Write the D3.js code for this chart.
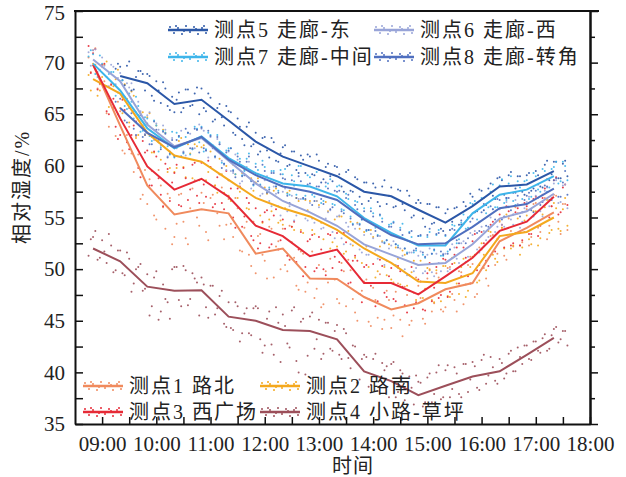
<!DOCTYPE html>
<html>
<head>
<meta charset="utf-8">
<script src="https://cdn.jsdelivr.net/npm/d3@7"></script>
<style>
body { margin: 0; background: #fff; }
svg { display: block; }
</style>
</head>
<body>
<div id="chart"></div>
<script>
const parseTime = d3.timeParse("%H:%M:%S");
const FONT = "'Liberation Serif', 'Noto Sans CJK SC', serif";

// half-hour averaged line values (08:50 ... 17:20)
const lineTimes = ["08:50:00","09:20:00","09:50:00","10:20:00","10:50:00","11:20:00","11:50:00","12:20:00","12:50:00",
  "13:20:00","13:50:00","14:20:00","14:50:00","15:20:00","15:50:00","16:20:00","16:50:00","17:20:00"];

const line1 = [69.8, 63.9, 58.1, 55.3, 55.8, 55.4, 51.5, 52.0, 49.1, 49.05, 47.3, 46.1, 46.7, 48.05, 48.65, 52.7, 54.0, 55.5];
const line2 = [68.4, 67.0, 63.2, 61.0, 60.4, 58.65, 56.9, 55.9, 55.1, 53.8, 52.0, 50.6, 48.8, 48.65, 49.6, 53.2, 53.6, 55.0];
const line3 = [69.8, 64.6, 59.95, 57.7, 58.75, 57.0, 54.2, 53.2, 51.25, 51.9, 48.65, 48.65, 47.55, 49.3, 51.1, 53.7, 54.6, 57.0];
const line4 = [52.0, 50.75, 48.3, 47.9, 47.95, 45.4, 45.0, 44.1, 44.0, 43.2, 40.1, 39.15, 37.8, 38.7, 39.6, 40.1, 41.7, 43.35];
const line5 = [null, 68.7, 68.0, 66.0, 66.4, 64.4, 62.35, 60.9, 59.95, 59.0, 57.5, 57.05, 55.75, 54.5, 56.1, 58.0, 58.2, 59.5];
const line6 = [70.3, 68.2, 64.0, 61.9, 62.7, 60.5, 58.3, 56.6, 55.5, 54.2, 52.4, 51.4, 50.4, 50.6, 52.4, 54.9, 55.6, 57.3];
const line7 = [69.9, 67.3, 63.65, 61.7, 62.85, 60.75, 59.3, 58.3, 58.0, 57.05, 54.95, 53.5, 52.3, 52.3, 55.4, 57.2, 57.7, 59.0];
const line8 = [null, 65.6, 63.2, 61.8, 62.8, 60.6, 59.1, 58.0, 57.5, 56.7, 54.8, 53.3, 52.4, 52.5, 54.1, 55.9, 56.3, 57.8];

// raw readings, one every 5 minutes from the given start (two interleaved sets)
const startA = ["08:45:00","08:45:00","08:45:00","08:45:00","09:15:00","08:45:00","08:45:00","09:15:00"];
const startB = ["08:47:30","08:47:30","08:47:30","08:47:30","09:17:30","08:47:30","08:47:30","09:17:30"];

const dots1 = [70.5,
 71.2,67.5,69.6,65.1,67.8,62.9, 65.3,61.2,63.8,59.4,61.1,57.2, 56.3,59.5,54.8,58.1,53.9,56.9,
 53.1,57.2,54.6,52.4,57.8,55.0, 57.4,53.6,56.9,58.1,54.2,52.9, 56.8,53.1,55.9,51.7,54.6,50.3,
 49.6,53.4,50.8,54.1,49.2,52.7, 53.9,49.8,52.6,48.4,51.7,47.8, 51.3,47.2,50.4,46.6,48.7,51.8,
 47.1,50.6,46.4,49.9,45.8,49.2, 48.8,44.9,48.2,45.3,44.2,47.9, 44.3,47.8,45.1,48.3,44.6,47.7,
 48.4,45.2,49.1,45.9,49.6,46.1, 46.3,50.2,47.0,49.8,46.6,50.4, 50.5,47.6,51.9,49.1,53.2,50.4,
 54.6,51.3,54.9,52.2,55.4,52.6, 55.8,53.1,56.4,53.6,56.9,54.2, 57.2,54.6,56.3,53.8];
const dots1b = [69.1,
 71.4,67.9,68.2,63.8,65.6,66.2, 61.5,63.0,61.2,62.9,56.8,59.6, 58.7,55.2,59.6,56.0,57.3,52.4,
 54.4,57.3,53.0,55.9,58.6,54.2, 56.4,52.8,57.2,55.4,57.9,54.3, 54.4,56.9,51.8,54.0,51.4,54.6,
 53.2,51.4,49.1,53.9,52.2,50.0, 50.4,54.2,51.1,48.0,51.5,48.7, 51.7,48.1,46.3,49.8,51.0,49.0,
 46.7,49.8,50.9,47.1,45.0,47.9, 49.0,44.5,47.0,49.5,45.1,47.0, 45.5,48.6,43.5,47.5,45.0,49.2,
 47.2,44.7,50.0,46.7,49.2,45.9, 50.1,47.6,45.9,49.7,48.5,51.2, 47.3,52.1,50.1,48.4,53.3,51.5,
 54.0,50.9,53.7,56.0,52.3,53.6, 52.3,56.3,54.0,57.2,52.9,56.1, 57.1,53.4,56.3];

const dots2 = [68.8,
 69.9,66.8,68.6,70.1,66.3,68.4, 65.6,67.9,64.2,66.8,63.0,65.2, 64.7,61.3,63.9,60.6,63.2,59.8,
 59.4,62.4,59.9,62.1,58.8,61.9, 61.8,58.6,61.4,58.1,60.7,57.4, 57.1,60.1,56.9,59.3,55.9,58.8,
 58.4,55.2,57.9,54.8,57.6,54.5, 54.3,57.4,54.1,56.9,53.8,56.7, 56.6,53.4,56.2,52.9,55.6,52.6,
 52.2,55.1,51.7,54.6,51.1,53.9, 53.6,50.2,53.1,49.8,52.7,49.4, 49.0,52.1,48.5,51.4,47.9,50.8,
 50.4,47.2,50.1,47.0,49.9,46.9, 50.3,47.3,50.6,47.6,51.0,47.9, 51.2,48.7,52.5,49.9,53.6,51.0,
 54.7,52.0,55.1,52.3,54.9,52.1, 55.2,52.4,55.6,53.0,56.0,53.5, 56.4,53.9,55.8,54.2];
const dots2b = [67.3,
 69.8,67.3,69.8,65.7,67.7,69.3, 65.1,66.5,67.2,62.7,65.1,63.0, 65.1,61.3,62.5,63.5,59.4,61.9,
 59.8,62.7,58.9,61.2,62.1,58.6, 62.0,59.4,61.9,57.4,59.2,60.0, 56.6,59.2,57.5,59.7,55.8,57.6,
 58.8,54.5,57.3,55.6,57.8,54.7, 55.9,57.6,53.8,56.6,53.5,55.7, 53.8,56.6,54.5,56.5,52.0,54.8,
 55.1,51.5,53.7,52.3,54.5,50.6, 52.2,53.8,49.2,52.2,50.2,52.4, 48.7,51.0,51.8,48.4,49.7,47.0,
 50.8,48.1,49.9,46.8,48.9,50.3, 47.4,51.1,48.6,50.2,47.3,50.2, 51.4,48.9,51.4,53.7,51.4,50.7,
 54.0,55.3,52.0,53.5,51.4,54.7, 52.9,55.6,52.3,55.3,56.7,53.8, 55.9,53.7,56.9];

const dots3 = [71.6,
 70.9,67.4,69.8,65.3,67.9,63.8, 63.0,65.4,61.6,63.9,59.8,62.4, 61.5,58.1,60.9,57.2,60.2,56.6,
 59.3,56.2,59.8,56.7,60.1,57.1, 60.3,57.0,59.9,56.3,59.2,55.8, 58.6,55.0,57.8,54.1,56.9,53.2,
 55.9,52.5,55.5,52.1,55.2,51.9, 54.8,51.3,54.1,50.7,53.6,50.2, 52.9,49.8,53.1,50.0,53.4,50.1,
 53.5,49.9,52.6,48.7,51.3,47.6, 50.2,47.1,50.5,46.9,50.3,47.3, 50.1,46.9,49.8,46.5,49.4,46.2,
 49.0,46.1,49.6,46.9,50.2,47.5, 50.9,47.8,51.4,48.6,52.1,49.3, 52.7,49.9,53.6,50.8,54.3,51.7,
 55.3,52.1,55.6,52.5,55.9,52.8, 56.1,53.4,57.0,54.2,57.8,55.0, 58.6,55.3,57.9,56.2];
const dots3b = [69.0,
 71.3,68.0,69.9,65.0,66.5,62.6, 66.4,62.3,63.0,64.3,58.9,61.3, 58.1,61.4,58.8,56.1,59.7,58.4,
 60.1,56.1,58.8,57.7,60.3,56.4, 58.2,60.5,56.0,58.9,56.4,59.5, 57.8,54.0,58.0,55.1,56.4,52.8,
 52.0,54.6,55.7,52.4,55.8,52.8, 53.9,50.9,54.6,51.9,49.3,52.7, 53.3,50.1,51.9,49.4,53.3,51.2,
 50.7,53.5,48.6,50.8,50.8,46.8, 50.4,48.4,46.4,50.9,47.7,49.3, 47.1,50.3,48.3,45.8,50.2,46.8,
 48.8,46.0,50.6,48.2,47.2,51.0, 47.3,50.5,52.1,49.3,51.1,48.6, 53.4,50.4,52.5,50.3,54.6,52.9,
 54.3,56.1,52.3,55.5,52.3,56.4, 53.4,56.8,53.2,56.9,58.7,56.1, 58.9,55.5,58.2];

const dots4 = [51.3,
 53.1,50.9,52.8,50.6,52.3,49.9, 51.8,49.4,51.0,48.6,50.2,47.9, 49.5,46.4,49.8,45.9,47.1,45.2,
 50.2,47.0,50.3,46.5,49.6,48.7, 49.2,46.3,48.4,45.6,47.4,44.7, 46.8,44.1,46.4,43.8,46.2,43.6,
 46.4,43.2,42.6,45.9,41.7,44.8, 45.6,42.8,46.0,41.1,44.9,39.8, 45.4,42.3,45.1,41.8,44.8,42.1,
 44.6,41.3,43.8,40.4,42.5,39.3, 41.7,38.6,41.3,38.2,40.9,40.6, 40.8,37.6,40.2,37.3,39.6,36.9,
 39.1,36.7,39.5,37.1,40.0,37.4, 40.2,37.6,40.5,37.9,40.8,38.1, 41.0,38.5,41.2,38.9,41.5,39.2,
 41.3,39.4,41.8,40.1,42.4,40.8, 42.6,41.2,43.0,41.9,43.7,42.3, 44.2,42.9,44.0,42.6];
const dots4b = [52.9,
 53.7,51.1,51.7,53.4,49.7,51.8, 49.6,51.6,47.8,50.0,50.5,48.1, 45.5,49.2,45.1,48.5,46.8,50.0,
 50.2,46.4,49.9,47.1,49.1,45.5, 48.5,45.3,48.4,46.2,47.9,44.4, 44.3,46.8,43.0,45.7,43.8,46.2,
 46.2,41.9,45.2,42.7,46.3,41.0, 44.5,42.4,46.3,40.0,45.2,41.6, 45.8,43.2,41.3,44.8,42.3,44.0,
 41.7,44.2,41.4,42.6,39.0,41.3, 41.5,38.8,41.8,39.2,40.2,37.6, 41.0,38.1,39.9,36.9,38.5,39.7,
 39.0,37.1,39.9,37.9,40.7,37.6, 40.7,38.4,39.9,37.6,40.8,39.3, 40.6,38.3,41.7,39.7,40.5,38.9,
 40.9,39.9,42.1,40.1,41.5,42.6, 41.3,43.0,42.1,43.3,42.1,43.6, 44.4,43.2,44.0];

const dots5 = [69.4,
 69.6,67.8,70.1,67.4,69.2,68.9, 68.9,66.8,68.2,66.1,67.5,65.4, 65.2,67.1,65.6,67.4,65.9,67.6,
 67.5,65.3,66.6,64.5,66.0,63.9, 65.3,63.2,64.6,62.6,63.8,61.9, 63.2,61.4,62.8,60.8,62.3,60.4,
 61.8,60.0,61.4,59.6,61.0,59.3, 60.9,59.1,60.5,58.7,60.2,58.5, 59.9,58.0,59.4,57.6,58.9,57.0,
 58.4,56.6,58.3,56.5,58.0,56.3, 57.9,56.1,57.6,55.7,57.1,55.2, 56.7,54.9,56.3,54.4,56.0,53.9,
 55.4,53.8,55.9,54.3,56.5,55.0, 57.0,55.6,57.6,56.2,58.3,56.8, 58.9,57.2,59.1,57.4,59.0,57.5,
 59.1,57.6,59.5,58.0,60.1,58.6, 60.4,58.8,60.2,59.0];
const dots5b = [69.9,
 68.3,69.7,67.3,68.6,69.2,67.3, 68.7,66.3,67.3,68.1,65.8,66.7, 66.4,65.2,67.4,65.8,67.0,65.0,
 65.6,67.0,64.3,65.6,64.7,65.8, 65.2,63.0,63.8,62.0,64.2,62.1, 61.1,62.7,61.5,62.7,60.5,61.2,
 62.0,60.1,61.4,59.3,60.6,61.1, 59.2,61.1,58.4,59.9,59.0,60.0, 59.2,57.5,59.6,57.5,58.7,56.3,
 58.4,56.9,57.9,56.1,58.6,57.1, 56.0,57.7,56.3,57.6,55.0,56.4, 56.4,54.1,56.3,54.5,56.0,53.7,
 55.8,54.6,56.0,54.3,56.1,57.3, 55.5,57.7,55.7,57.8,57.1,58.8, 58.6,56.9,59.4,57.8,59.0,57.2,
 59.3,57.8,59.1,57.9,60.5,59.2, 60.4,58.8,60.5];

const dots6 = [71.0,
 71.2,69.1,70.5,68.6,69.8,67.9, 69.0,66.7,67.6,65.3,66.2,63.9, 64.9,62.8,64.1,62.0,63.5,61.4,
 61.0,62.9,61.4,63.2,61.6,63.5, 63.6,61.5,62.8,60.8,62.1,60.1, 61.4,59.3,60.6,58.5,59.9,57.8,
 59.2,57.1,58.6,56.6,58.0,56.1, 57.5,55.6,57.1,55.2,56.8,54.9, 56.4,54.5,56.0,54.0,55.5,53.6,
 55.1,53.0,54.5,52.4,53.9,51.9, 53.3,51.4,53.0,51.0,52.6,50.8, 52.3,50.4,52.0,50.0,51.6,49.8,
 51.3,49.6,51.4,49.7,51.5,49.8, 51.5,50.0,52.1,50.6,52.7,51.2, 53.3,51.9,54.1,52.8,55.0,53.6,
 55.8,54.1,56.0,54.3,56.3,54.6, 56.5,55.0,57.1,55.6,57.6,56.1, 58.3,56.4,58.1,55.9];
const dots6b = [69.7,
 71.3,69.3,69.7,67.7,69.6,68.5, 66.8,68.0,68.0,65.2,65.3,63.1, 65.2,62.5,63.5,63.9,60.9,62.7,
 61.7,63.4,61.0,63.1,61.7,64.0, 63.4,60.8,62.0,62.6,60.5,59.6, 59.5,61.1,58.3,59.6,60.4,58.2,
 59.2,57.3,59.0,56.1,57.3,55.2, 57.8,56.1,54.7,56.8,56.9,54.7, 54.9,56.6,53.9,54.9,55.7,53.0,
 55.2,52.4,54.1,52.8,54.4,51.6, 51.4,53.4,51.8,53.2,50.4,52.0, 52.7,50.1,51.3,49.4,51.6,50.1,
 51.7,49.8,52.0,49.3,50.6,51.5, 49.8,52.4,51.0,52.5,50.7,53.5, 53.7,51.6,53.7,53.1,55.8,54.1,
 54.3,56.5,54.8,56.7,54.0,55.9, 57.0,55.1,56.9,55.1,57.9,56.9, 58.6,56.5,58.2];

const dots7 = [70.6,
 70.8,68.6,69.9,67.7,69.1,66.8, 68.2,65.8,67.0,64.6,65.8,63.4, 64.6,62.4,63.9,61.8,63.2,61.1,
 60.8,62.8,61.2,63.2,61.6,63.6, 63.8,61.6,63.0,60.9,62.3,60.2, 61.7,59.6,61.2,59.1,60.7,58.6,
 60.2,58.2,59.9,57.9,59.5,57.6, 59.2,57.3,59.1,57.2,60.0,57.1, 58.9,57.0,59.6,56.6,58.3,56.3,
 58.0,55.8,57.3,55.1,56.6,54.4, 55.9,53.8,55.4,53.3,54.9,52.8, 54.4,52.4,54.0,52.0,53.6,51.6,
 53.2,51.4,53.1,51.5,53.3,51.3, 53.2,51.9,54.2,52.9,55.3,54.0, 56.3,54.8,56.9,55.4,57.5,56.0,
 58.1,56.4,58.3,56.6,58.5,56.8, 58.6,57.0,59.0,57.5,59.5,57.9, 59.9,58.3,60.4,58.6];
const dots7b = [71.2,
 68.9,70.7,67.6,68.9,69.1,67.1, 68.3,65.5,66.2,66.7,63.3,64.7, 62.9,64.4,61.4,63.4,61.9,63.3,
 63.2,60.9,62.8,61.1,63.8,62.3, 61.4,63.2,61.8,63.0,60.3,61.5, 61.7,59.2,60.7,59.5,61.2,58.1,
 59.6,60.5,57.6,59.5,58.0,59.6, 59.7,57.2,58.5,60.0,56.8,59.1, 57.2,59.4,56.4,58.0,58.7,56.2,
 58.1,55.7,56.8,54.4,56.5,54.8, 53.7,55.9,54.0,55.2,52.6,54.3, 54.6,52.3,54.4,51.6,53.1,51.8,
 53.2,51.1,53.6,51.8,53.8,51.3, 51.7,54.3,52.5,54.5,53.9,56.4, 56.6,54.6,56.9,56.0,58.2,56.0,
 58.7,56.7,59.0,56.2,57.9,58.5, 56.8,59.3,57.7,59.7,57.5,59.7, 60.4,58.5,60.0];

const dots8 = [66.2,
 66.5,64.4,65.6,63.6,64.9,62.8, 64.1,62.1,63.5,61.6,63.1,61.2, 60.9,62.9,61.3,63.2,61.7,63.5,
 63.7,61.5,62.9,60.9,62.1,60.2, 61.5,59.5,60.9,59.0,60.4,58.5, 59.9,58.1,59.5,57.7,59.3,57.4,
 58.8,57.1,58.6,56.9,58.5,56.8, 58.3,56.6,58.0,56.3,57.8,56.0, 57.5,55.6,56.9,54.9,56.2,54.3,
 55.6,53.8,55.1,53.2,54.6,52.8, 54.1,52.4,53.8,52.0,53.5,51.8, 53.2,51.6,53.3,51.5,53.4,51.7,
 53.3,51.9,53.8,52.5,54.4,53.0, 54.9,53.5,55.5,54.2,56.1,54.8, 56.7,55.1,56.9,55.3,57.1,55.5,
 57.1,55.7,57.6,56.2,58.1,56.7, 58.6,57.0,58.4,57.2];
const dots8b = [65.0,
 66.7,64.2,65.1,63.0,64.9,63.0, 62.1,64.3,62.3,63.3,60.8,62.5, 62.5,60.9,63.6,61.7,63.6,61.3,
 61.7,63.4,61.7,62.8,59.8,61.3, 61.7,58.9,60.4,59.1,60.9,58.2, 58.5,60.1,57.4,59.3,58.0,59.2,
 58.7,56.4,58.1,59.0,56.9,58.2, 56.2,58.0,56.8,58.4,55.8,57.6, 57.6,55.4,57.2,54.3,55.8,54.8,
 53.8,55.6,53.7,55.3,52.5,54.1, 54.5,52.1,53.3,51.5,53.7,52.0, 53.3,51.2,53.9,51.9,53.5,51.4,
 51.5,53.9,52.8,54.7,52.5,54.6, 55.5,53.7,56.3,54.1,55.8,56.8, 54.8,56.9,55.7,57.4,55.1,56.7,
 57.4,55.5,58.2,56.5,58.0,56.7, 58.8,57.0,59.5];

const names = ["测点1 路北","测点2 路南","测点3 西广场","测点4 小路-草坪",
  "测点5 走廊-东","测点6 走廊-西","测点7 走廊-中间","测点8 走廊-转角"];
const colors = ["#f08a5d","#f4a81d","#e62a36","#9c4f5a","#2b57a7","#98a4d8","#3db5ea","#4f6fbf"];

const lines = [line1, line2, line3, line4, line5, line6, line7, line8];
const dotsA = [dots1, dots2, dots3, dots4, dots5, dots6, dots7, dots8];
const dotsB = [dots1b, dots2b, dots3b, dots4b, dots5b, dots6b, dots7b, dots8b];

const yTicks = d3.range(35, 75.1, 2.5);
const xTickHours = d3.range(9, 18.01, 0.5);

const width = 626, height = 477;
const plot = { left: 75, right: 590, top: 11, bottom: 424 };

const svg = d3.select("#chart").append("svg")
  .attr("width", width)
  .attr("height", height);

const x = d3.scaleTime()
  .domain([parseTime("08:30:00"), parseTime("18:00:00")])
  .range([plot.left, plot.right]);

const y = d3.scaleLinear()
  .domain([35, 75])
  .range([plot.bottom, plot.top]);

const base = parseTime("00:00:00");
const hourToDate = h => d3.timeSecond.offset(base, Math.round(h * 3600));

// readings
const dotLayer = svg.append("g");
function drawDots(arr, start, color) {
  const t0 = parseTime(start);
  dotLayer.append("g")
    .selectAll("circle")
    .data(arr)
    .join("circle")
    .attr("cx", (d, j) => x(d3.timeSecond.offset(t0, j * 300)))
    .attr("cy", d => y(d))
    .attr("r", 1)
    .attr("fill", color)
    .attr("opacity", 0.9);
}
dotsA.forEach((arr, i) => drawDots(arr, startA[i], colors[i]));
dotsB.forEach((arr, i) => drawDots(arr, startB[i], colors[i]));

// averaged lines
const lineGen = d3.line()
  .defined(d => d.v != null)
  .x(d => x(d.t))
  .y(d => y(d.v));

const drawOrder = [3, 0, 1, 2, 5, 6, 7, 4];
drawOrder.forEach(i => {
  const data = lineTimes.map((t, k) => ({ t: parseTime(t), v: lines[i][k] }));
  svg.append("path")
    .datum(data)
    .attr("fill", "none")
    .attr("stroke", colors[i])
    .attr("stroke-width", 2)
    .attr("d", lineGen);
});

// axes
const yAxis = d3.axisLeft(y)
  .tickValues(yTicks)
  .tickSize(-8)
  .tickSizeOuter(0)
  .tickPadding(10)
  .tickFormat(d => d % 5 === 0 ? d : "");

const gy = svg.append("g")
  .attr("transform", `translate(${plot.left},0)`)
  .call(yAxis);
gy.selectAll(".tick").filter(d => d === 75).select("text").attr("dy", "0.4em");

const xAxis = d3.axisBottom(x)
  .tickValues(xTickHours.map(hourToDate))
  .tickSize(-7)
  .tickSizeOuter(0)
  .tickPadding(12)
  .tickFormat(d => d.getMinutes() === 0 ? d3.timeFormat("%H:%M")(d) : "");

const gx = svg.append("g")
  .attr("transform", `translate(0,${plot.bottom})`)
  .call(xAxis);

const gr1 = svg.append("g")
  .attr("transform", `translate(${plot.right},0)`)
  .call(d3.axisRight(y).tickValues(yTicks.filter(d => d % 5 === 0)).tickSize(8).tickSizeOuter(0).tickFormat(""));
const gr2 = svg.append("g")
  .attr("transform", `translate(${plot.right},0)`)
  .call(d3.axisRight(y).tickValues(yTicks.filter(d => d % 5 !== 0)).tickSize(5).tickSizeOuter(0).tickFormat(""));

[gy, gx].forEach(g => {
  g.selectAll("text")
    .style("font-family", FONT)
    .style("font-size", "21px")
    .attr("fill", "#222");
});
[gy, gx, gr1, gr2].forEach(g => {
  g.select(".domain").attr("stroke", "#111").attr("stroke-width", 2);
  g.selectAll(".tick line").attr("stroke", "#111").attr("stroke-width", 1.5);
});

svg.append("line")
  .attr("x1", plot.left - 1).attr("x2", 599)
  .attr("y1", plot.top).attr("y2", plot.top)
  .attr("stroke", "#111").attr("stroke-width", 2);

// axis titles
svg.append("text")
  .attr("transform", "translate(29,187) rotate(-90)")
  .attr("text-anchor", "middle")
  .style("font-family", FONT)
  .style("font-size", "20px")
  .style("letter-spacing", "2px")
  .attr("fill", "#222")
  .text("相对湿度/%");

svg.append("text")
  .attr("x", 353)
  .attr("y", 473)
  .attr("text-anchor", "middle")
  .style("font-family", FONT)
  .style("font-size", "20px")
  .style("letter-spacing", "1px")
  .attr("fill", "#222")
  .text("时间");

// legends
const legendPos = [
  [83, 386], [260, 386], [83, 412], [260, 412],
  [168, 30], [374, 30], [168, 57], [374, 57]
];
const legendSpecks = [[2,-3],[6,3],[10,-2],[14,4],[18,-4],[22,2],[26,-3],[30,4],[34,-2],[38,3],[8,-4],[28,-1],[16,1],[36,-4]];

legendPos.forEach(([lx, ly], i) => {
  const g = svg.append("g").attr("transform", `translate(${lx},${ly})`);
  g.selectAll("circle")
    .data(legendSpecks)
    .join("circle")
    .attr("cx", d => d[0])
    .attr("cy", d => d[1])
    .attr("r", 1)
    .attr("fill", colors[i]);
  g.append("line")
    .attr("x1", 0).attr("x2", 40)
    .attr("stroke", colors[i])
    .attr("stroke-width", 2.5);
  g.append("text")
    .attr("x", 46)
    .attr("dy", "0.36em")
    .style("font-family", FONT)
    .style("font-size", "20px")
    .style("letter-spacing", "2px")
    .attr("fill", "#222")
    .text(names[i]);
});
</script>
</body>
</html>
